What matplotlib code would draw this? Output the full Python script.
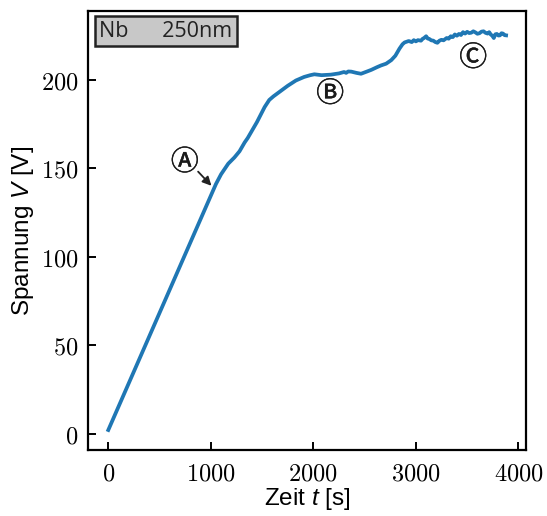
import matplotlib
matplotlib.use('Agg')
import matplotlib.pyplot as plt
import matplotlib.patheffects as pe
from matplotlib.ticker import FuncFormatter

plt.rcParams['mathtext.fontset'] = 'custom'
plt.rcParams['mathtext.rm'] = 'Liberation Sans'
plt.rcParams['mathtext.it'] = 'Liberation Sans:italic'

# Messkurve
zeit = [0, 1050, 1100, 1170, 1230, 1280, 1330, 1360, 1395, 1450, 1525, 1570, 1610, 1680,
        1750, 1830, 1910, 1970, 2010, 2080, 2170, 2250, 2300, 2320, 2340, 2370, 2420, 2465,
        2520, 2565, 2620, 2660, 2710, 2760, 2800, 2840, 2870, 2890, 2930, 2960, 2980,
        3000, 3020, 3050, 3065, 3080, 3100, 3115, 3130, 3150, 3170, 3190, 3210, 3230,
        3250, 3270, 3300, 3320, 3340, 3360, 3380, 3400, 3420, 3440, 3460, 3480, 3500,
        3520, 3540, 3560, 3580, 3600, 3620, 3640, 3660, 3680, 3700, 3715, 3730, 3745,
        3760, 3775, 3790, 3805, 3820, 3835, 3850, 3865, 3880]
spannung = [2, 141, 146.5, 152.5, 156, 159.5, 164.5, 167, 170.5, 176, 184.5, 188.5, 190.5, 193.5,
            196.5, 199.5, 201.5, 202.5, 203, 202.5, 202.8, 203.5, 204.3, 203.8, 204.6, 204.5, 203.8, 203.3,
            204.5, 205.5, 207, 208, 209, 211, 213.5, 217.5, 220, 221, 221.8, 221.2, 222.3,
            221.6, 222.3, 222, 223, 223.5, 224.5, 223.2, 223, 222.2, 222, 221.2, 220.8, 222,
            222.5, 222.2, 223.5, 223.1, 224.5, 224, 225.5, 224.8, 225.8, 225.2, 226.8, 226, 227,
            226.3, 226.5, 227.3, 226.7, 225.9, 226.2, 227.1, 227.3, 226.4, 226, 226.8, 225.5, 224.8,
            223.5, 225.6, 225.8, 224.9, 225, 226.2, 226, 225.1, 225]

marken = ['\u24b6', '\u24b7', '\u24b8']
marken_t = [746, 2164, 3559]
marken_v = [153.4, 192, 212.3]

fig = plt.figure(figsize=(5.47, 5.16), dpi=100)
ax = fig.add_axes([0.1616, 0.128, 0.8, 0.85])

ax.plot(zeit, spannung, color='#1f77b4', lw=2.7)

for m, t, v in zip(marken, marken_t, marken_v):
    ax.text(t, v, m, fontsize=20, ha='center', va='center',
            family=['Noto Sans CJK JP', 'DejaVu Sans'], color='#1a1a1a',
            path_effects=[pe.withStroke(linewidth=0.35, foreground='#1a1a1a')])

ax.annotate('', xy=(1006, 140), xytext=(876, 148),
            arrowprops=dict(arrowstyle='-|>', color='#222222', lw=1.3, mutation_scale=13,
                            shrinkA=0, shrinkB=0))

ax.text(0.025, 0.955, 'Nb      250nm', transform=ax.transAxes, fontsize=15.5,
        family='Open Sans', ha='left', va='center', color='#222222',
        bbox=dict(boxstyle='square,pad=0.2', fc='#c8c8c8', ec='#222222', lw=1.8))

ax.set_xticks([0, 1000, 2000, 3000, 4000])
ax.set_yticks([0, 50, 100, 150, 200])
fmt = FuncFormatter(lambda x, p: f'${int(x)}$')
ax.xaxis.set_major_formatter(fmt)
ax.yaxis.set_major_formatter(fmt)
for lab in ax.get_xticklabels() + ax.get_yticklabels():
    lab.set_math_fontfamily('cm')
ax.tick_params(direction='in', length=6, width=1.4, labelsize=17.5, pad=7)
ax.tick_params(axis='x', pad=8)
for s in ax.spines.values():
    s.set_linewidth(1.6)

ax.set_xlabel('Zeit $t$ [s]', fontsize=17.5, family='Liberation Sans', labelpad=1)
ax.set_ylabel('Spannung $V$ [V]', fontsize=17.5, family='Liberation Sans', labelpad=4)

fig.savefig('out.png', dpi=100)
